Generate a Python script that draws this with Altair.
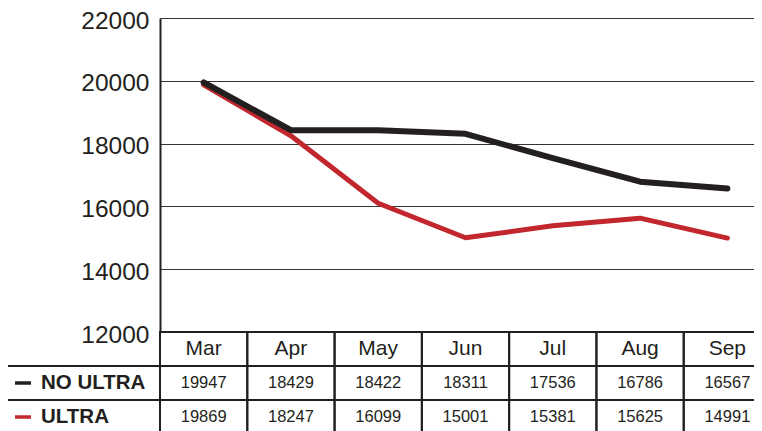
import altair as alt
import pandas as pd

months = ["Mar", "Apr", "May", "Jun", "Jul", "Aug", "Sep"]
no_ultra = [19947, 18429, 18422, 18311, 17536, 16786, 16567]
ultra = [19869, 18247, 16099, 15001, 15381, 15625, 14991]
series_names = ["NO ULTRA", "ULTRA"]
series_colors = ["#231f20", "#c1272d"]
y_ticks = [12000, 14000, 16000, 18000, 20000, 22000]
table_rows = ["Month", "NO ULTRA", "ULTRA"]

FONT = "Liberation Sans"
INK = "#231f20"

line_df = pd.DataFrame({
    "month": months * 2,
    "value": no_ultra + ultra,
    "series": [series_names[0]] * len(months) + [series_names[1]] * len(months),
})

table_records = []
for m in months:
    table_records.append({"month": m, "row": "Month", "label": m})
for m, v in zip(months, no_ultra):
    table_records.append({"month": m, "row": "NO ULTRA", "label": str(v)})
for m, v in zip(months, ultra):
    table_records.append({"month": m, "row": "ULTRA", "label": str(v)})
table_df = pd.DataFrame(table_records)

label_df = pd.DataFrame({"row": series_names, "color": series_colors})

COL_RANGE = [0, 611]

x_pt = alt.X("month:N", sort=months,
             scale=alt.Scale(type="point", domain=months, range=COL_RANGE, padding=0.5),
             axis=None)
y_val = alt.Y("value:Q",
              scale=alt.Scale(domain=[12000, 22000], range=[314, 0], nice=False, zero=False),
              axis=alt.Axis(values=y_ticks, format="d", title=None, ticks=False,
                            labelFontSize=24.5, labelFont=FONT, labelColor=INK,
                            labelPadding=11, labelOffset=3,
                            domainColor=INK, domainWidth=2,
                            grid=True, gridColor="#333333", gridWidth=1.1))

base_line = alt.Chart(line_df).encode(x=x_pt, y=y_val)
red_line = base_line.transform_filter(alt.datum.series == "ULTRA").mark_line(
    color=series_colors[1], strokeWidth=5, strokeCap="round", strokeJoin="round")
black_line = base_line.transform_filter(alt.datum.series == "NO ULTRA").mark_line(
    color=series_colors[0], strokeWidth=6, strokeCap="round", strokeJoin="round")
lines = alt.layer(red_line, black_line)

x_band = alt.X("month:N", sort=months,
               scale=alt.Scale(type="band", domain=months, range=COL_RANGE,
                               paddingInner=0, paddingOuter=0),
               axis=None)
y_scale = alt.Scale(type="band", domain=table_rows, range=[314, 416],
                    paddingInner=0, paddingOuter=0)
y_band = alt.Y("row:N", scale=y_scale, axis=None)

cells = alt.Chart(table_df).mark_rect(fillOpacity=0, stroke=INK, strokeWidth=2).encode(
    x=x_band, y=y_band)
month_text = alt.Chart(table_df).transform_filter(alt.datum.row == "Month").mark_text(
    fontSize=21, font=FONT, color=INK).encode(x=x_band, y=y_band, text="label:N")
value_text = alt.Chart(table_df).transform_filter(alt.datum.row != "Month").mark_text(
    fontSize=16.5, font=FONT, color=INK).encode(x=x_band, y=y_band, text="label:N")

label_cells = alt.Chart(label_df).mark_rect(fillOpacity=0, stroke=INK, strokeWidth=2).encode(
    x=alt.value(-153), x2=alt.value(0), y=y_band)
label_dash = alt.Chart(label_df).mark_rule(strokeWidth=3.5).encode(
    x=alt.value(-145), x2=alt.value(-129),
    y=alt.Y("row:N", scale=y_scale, axis=None, bandPosition=0.5),
    color=alt.Color("color:N", scale=None))
label_text = alt.Chart(label_df).mark_text(
    align="left", fontWeight="bold", fontSize=20.5, font=FONT, color=INK).encode(
    x=alt.value(-119), y=y_band, text="row:N")

table = alt.layer(cells, month_text, value_text, label_cells, label_dash, label_text)

chart = alt.layer(lines, table).resolve_scale(x="independent", y="independent").properties(
    width=594, height=413,
    autosize=alt.AutoSizeParams(type="none"),
    padding={"left": 152, "top": 10, "right": 0, "bottom": 0},
    background="white",
).configure_view(strokeWidth=0)

chart.save("out.html", embed_options={"renderer": "svg", "actions": False})
